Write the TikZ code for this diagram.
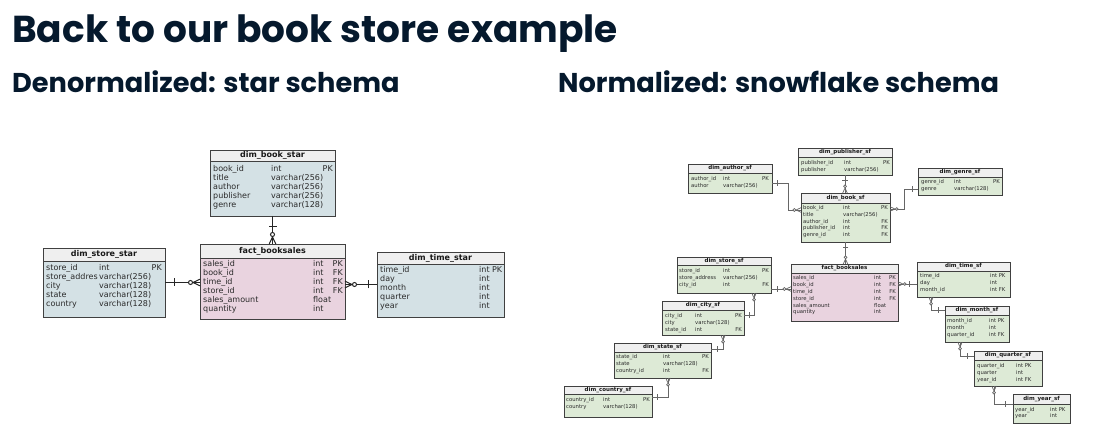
\documentclass[tikz,border=0pt]{standalone}
\usepackage{fontspec}
\setmainfont{Poppins}
\newfontfamily\tabfont{DejaVu Sans}
\usetikzlibrary{calc}
\definecolor{navy}{HTML}{05192D}
\definecolor{starfill}{HTML}{D4E1E5}
\definecolor{factfill}{HTML}{E9D3DF}
\definecolor{sffill}{HTML}{DDEAD6}
\definecolor{hdrfill}{HTML}{EFEFEF}
\definecolor{rowtext}{HTML}{2A2A2A}
\tikzset{
  tabbox/.style={draw=black!75, line width=0.8pt, inner sep=0pt, outer sep=0pt},
  tabline/.style={draw=black!75, line width=0.8pt},
  rowtxt/.style={inner sep=0pt, text=rowtext},
  starconn/.style={draw=black!85, line width=1pt},
  sfconn/.style={draw=black!60, line width=0.7pt},
  headline/.style={text=navy, anchor=base west, inner sep=0pt},
  pics/zeromany/.style={code={
    \draw (0,-3.3) -- (7,0) -- (0,3.3);
    \draw[fill=white] (9.5,0) circle (2);
  }},
  pics/onebar/.style={code={\draw (#1,-4) -- (#1,4);}},
}
% #1 name #2 x #3 y #4 w #5 h #6 header h #7 fill #8 title #9 font size
\newcommand\ertab[9]{%
  \node[tabbox, fill=#7, minimum width=#4pt, minimum height=#5pt, anchor=north west] (#1) at (#2,#3) {};
  \fill[hdrfill] (#2,#3) rectangle (#2+#4,#3+#6);
  \draw[tabline] (#2,#3+#6) -- (#2+#4,#3+#6);
  \node[font=\tabfont\bfseries\fontsize{#9}{#9}\selectfont, inner sep=0pt, text=black!90] (#1-title) at (#2+#4/2,#3+#6/2) {#8};
  \draw[tabline] (#1.north west) rectangle (#1.south east);
}
% #1 table #2 font size #3 x1 #4 x2 #5 x3 right #6 y0 baseline #7 dy #8 list
\newcommand\errows[8]{%
  \foreach \a/\b/\c [count=\i from 0] in {#8} {
    \node[rowtxt, font=\tabfont\fontsize{#2}{#2}\selectfont, anchor=base west] (#1-a\i) at (#3,#6+\i*#7) {\a};
    \node[rowtxt, font=\tabfont\fontsize{#2}{#2}\selectfont, anchor=base west] (#1-b\i) at (#4,#6+\i*#7) {\b};
    \node[rowtxt, font=\tabfont\fontsize{#2}{#2}\selectfont, anchor=base east] (#1-c\i) at (#5,#6+\i*#7) {\c};
  }%
}
\begin{document}
\begin{tikzpicture}[x=1pt, y=-1pt]
\useasboundingbox (0,0) rectangle (1093,438);
\fill[white] (0,0) rectangle (1093,438);

% titles
\node[headline, font=\fontsize{37.5}{37.5}\selectfont\bfseries] (title) at (12,43) {Back to our book store example};
\node[headline, font=\fontsize{27.2}{27.2}\selectfont\bfseries] (sub1) at (12,93) {Denormalized: star schema};
\node[headline, font=\fontsize{27.2}{27.2}\selectfont\bfseries] (sub2) at (558,93) {Normalized: snowflake schema};

% ===== star schema =====
\ertab{bookstar}{210}{150}{125}{66}{11}{starfill}{dim\_book\_star}{8}
\errows{bookstar}{8}{213}{271}{333}{172}{9}{book\_id/int/PK, title/{varchar(256)}/{}, author/{varchar(256)}/{}, publisher/{varchar(256)}/{}, genre/{varchar(128)}/{}}

\ertab{factstar}{200}{244}{145}{75}{14}{factfill}{fact\_booksales}{8}
\errows{factstar}{8}{203}{313}{343}{267}{9}{sales\_id/int/PK, book\_id/int/FK, time\_id/int/FK, store\_id/int/FK, sales\_amount/float/{}, quantity/int/{}}

\ertab{storestar}{43}{248}{122}{69}{13}{starfill}{dim\_store\_star}{8}
\errows{storestar}{8}{46}{99}{162}{271}{9}{store\_id/int/PK, store\_addres/{varchar(256)}/{}, city/{varchar(128)}/{}, state/{varchar(128)}/{}, country/{varchar(128)}/{}}

\ertab{timestar}{377}{252}{127}{65}{12}{starfill}{dim\_time\_star}{8}
\errows{timestar}{8}{380}{479}{501}{273}{9}{time\_id/{int PK}/{}, day/int/{}, month/int/{}, quarter/int/{}, year/int/{}}

\draw[starconn] (bookstar.south) -- (bookstar.south |- factstar.north);
\pic[black!85, line width=1pt, rotate=-90] at (bookstar.south) {onebar=10.5};
\pic[black!85, line width=1pt, rotate=90] at (bookstar.south |- factstar.north) {zeromany};

\draw[starconn] (storestar.east) -- (storestar.east -| factstar.west);
\pic[black!85, line width=1pt, rotate=0] at (storestar.east) {onebar=9};
\pic[black!85, line width=1pt, rotate=180] at (storestar.east -| factstar.west) {zeromany};

\draw[starconn] (timestar.west) -- (timestar.west -| factstar.east);
\pic[black!85, line width=1pt, rotate=180] at (timestar.west) {onebar=9};
\pic[black!85, line width=1pt, rotate=0] at (timestar.west -| factstar.east) {zeromany};

% ===== snowflake schema =====
\ertab{publishersf}{798}{148}{94}{27}{9}{sffill}{dim\_publisher\_sf}{5.5}
\errows{publishersf}{5.3}{801}{844}{890}{165}{6.6}{publisher\_id/int/PK, publisher/{varchar(256)}/{}}

\ertab{authorsf}{688}{164}{84}{29}{9}{sffill}{dim\_author\_sf}{5.5}
\errows{authorsf}{5.3}{691}{723}{769}{181}{6.6}{author\_id/int/PK, author/{varchar(256)}/{}}

\ertab{genresf}{918}{168}{84}{27}{9}{sffill}{dim\_genre\_sf}{5.5}
\errows{genresf}{5.3}{921}{954}{1000}{184}{6.6}{genre\_id/int/PK, genre/{varchar(128)}/{}}

\ertab{booksf}{801}{193}{89}{49}{10}{sffill}{dim\_book\_sf}{5.5}
\errows{booksf}{5.3}{803}{843}{888}{210}{6.6}{book\_id/int/PK, title/{varchar(256)}/{}, author\_id/int/FK, publisher\_id/int/FK, genre\_id/int/FK}

\ertab{storesf}{677}{257}{94}{36}{8}{sffill}{dim\_store\_sf}{5.5}
\errows{storesf}{5.3}{679}{723}{769}{273}{6.6}{store\_id/int/PK, store\_address/{varchar(256)}/{}, city\_id/int/FK}

\ertab{factsf}{791}{264}{107}{57}{9}{factfill}{fact\_booksales}{5.5}
\errows{factsf}{5.3}{793}{874}{896}{280}{6.8}{sales\_id/int/PK, book\_id/int/FK, time\_id/int/FK, store\_id/int/FK, sales\_amount/float/{}, quantity/int/{}}

\ertab{timesf}{917}{262}{93}{35}{9}{sffill}{dim\_time\_sf}{5.5}
\errows{timesf}{5.3}{920}{990}{1008}{278}{6.8}{time\_id/{int PK}/{}, day/int/{}, month\_id/{int FK}/{}}

\ertab{citysf}{662}{301}{82}{34}{9}{sffill}{dim\_city\_sf}{5.5}
\errows{citysf}{5.3}{665}{695}{742}{318}{6.6}{city\_id/int/PK, city/{varchar(128)}/{}, state\_id/int/FK}

\ertab{monthsf}{945}{306}{64}{36}{9}{sffill}{dim\_month\_sf}{5.5}
\errows{monthsf}{5.3}{947}{989}{1007}{323}{6.6}{month\_id/{int PK}/{}, month/int/{}, quarter\_id/{int FK}/{}}

\ertab{statesf}{614}{343}{97}{35}{9}{sffill}{dim\_state\_sf}{5.5}
\errows{statesf}{5.3}{616}{663}{709}{359}{6.8}{state\_id/int/PK, state/{varchar(128)}/{}, country\_id/int/FK}

\ertab{quartersf}{974}{351}{68}{35}{9}{sffill}{dim\_quarter\_sf}{5.5}
\errows{quartersf}{5.3}{977}{1016}{1040}{368}{6.6}{quarter\_id/{int PK}/{}, quarter/int/{}, year\_id/{int FK}/{}}

\ertab{countrysf}{564}{386}{88}{31}{8}{sffill}{dim\_country\_sf}{5.5}
\errows{countrysf}{5.3}{566}{603}{650}{402}{6.8}{country\_id/int/PK, country/{varchar(128)}/{}}

\ertab{yearsf}{1013}{394}{57}{29}{10}{sffill}{dim\_year\_sf}{5.5}
\errows{yearsf}{5.3}{1015}{1050}{1068}{411}{6.8}{year\_id/{int PK}/{}, year/int/{}}

\tikzset{sfpic/.style={black!60, line width=0.7pt, scale=0.7}}
% author -> book
\draw[sfconn] (authorsf.east |- 0,183) -| (788,210) -- (booksf.west |- 0,210);
\pic[sfpic, rotate=0] at (authorsf.east |- 0,183) {onebar=8};
\pic[sfpic, rotate=180] at (booksf.west |- 0,210) {zeromany};
% publisher -> book
\draw[sfconn] (publishersf.south) -- (publishersf.south |- booksf.north);
\pic[sfpic, rotate=-90] at (publishersf.south) {onebar=7};
\pic[sfpic, rotate=90] at (publishersf.south |- booksf.north) {zeromany};
% genre -> book
\draw[sfconn] (genresf.west |- 0,189) -| (904,209) -- (booksf.east |- 0,209);
\pic[sfpic, rotate=180] at (genresf.west |- 0,189) {onebar=8};
\pic[sfpic, rotate=0] at (booksf.east |- 0,209) {zeromany};
% book -> fact
\draw[sfconn] (booksf.south) -- (booksf.south |- factsf.north);
\pic[sfpic, rotate=-90] at (booksf.south) {onebar=8};
\pic[sfpic, rotate=90] at (booksf.south |- factsf.north) {zeromany};
% store -> fact
\draw[sfconn] (storesf.east |- 0,289) -- (factsf.west |- 0,289);
\pic[sfpic, rotate=0] at (storesf.east |- 0,289) {onebar=9};
\pic[sfpic, rotate=180] at (factsf.west |- 0,289) {zeromany};
% time -> fact
\draw[sfconn] (factsf.east |- 0,284) -- (timesf.west |- 0,284);
\pic[sfpic, rotate=0] at (factsf.east |- 0,284) {zeromany};
\pic[sfpic, rotate=180] at (timesf.west |- 0,284) {onebar=11};
% city -> store
\draw[sfconn] (citysf.east |- 0,315) -| (754,0 |- storesf.south);
\pic[sfpic, rotate=0] at (citysf.east |- 0,315) {onebar=8};
\pic[sfpic, rotate=-90] at (754,0 |- storesf.south) {zeromany};
% state -> city
\draw[sfconn] (723,0 |- citysf.south) |- (statesf.east |- 0,349);
\pic[sfpic, rotate=-90] at (723,0 |- citysf.south) {zeromany};
\pic[sfpic, rotate=0] at (statesf.east |- 0,349) {onebar=9};
% country -> state
\draw[sfconn] (668,0 |- statesf.south) |- (countrysf.east |- 0,397);
\pic[sfpic, rotate=-90] at (668,0 |- statesf.south) {zeromany};
\pic[sfpic, rotate=0] at (countrysf.east |- 0,397) {onebar=8};
% month -> time
\draw[sfconn] (931,0 |- timesf.south) |- (monthsf.west |- 0,310);
\pic[sfpic, rotate=-90] at (931,0 |- timesf.south) {zeromany};
\pic[sfpic, rotate=180] at (monthsf.west |- 0,310) {onebar=10};
% quarter -> month
\draw[sfconn] (960,0 |- monthsf.south) |- (quartersf.west |- 0,356);
\pic[sfpic, rotate=-90] at (960,0 |- monthsf.south) {zeromany};
\pic[sfpic, rotate=180] at (quartersf.west |- 0,356) {onebar=9};
% year -> quarter
\draw[sfconn] (994,0 |- quartersf.south) |- (yearsf.west |- 0,404);
\pic[sfpic, rotate=-90] at (994,0 |- quartersf.south) {zeromany};
\pic[sfpic, rotate=180] at (yearsf.west |- 0,404) {onebar=11};
\end{tikzpicture}
\end{document}
